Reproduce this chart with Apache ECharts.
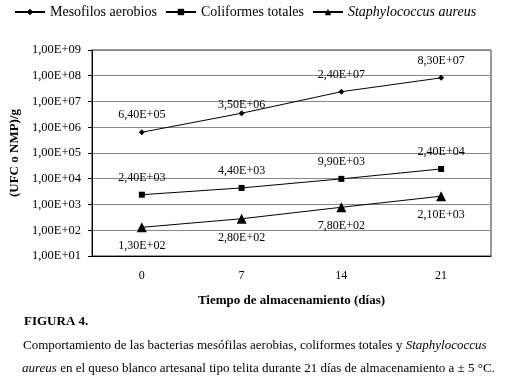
<!DOCTYPE html>
<html>
<head>
<meta charset="utf-8">
<script src="https://cdn.jsdelivr.net/npm/echarts@6/dist/echarts.min.js"></script>
<style>
  html, body { margin: 0; padding: 0; background: #fff; }
  #main { width: 511px; height: 392px; }
</style>
</head>
<body>
<div id="main"></div>
<script>
const days = ["0", "7", "14", "21"];
const mesofilos = [6.4e5, 3.5e6, 2.4e7, 8.3e7];
const coliformes = [2.4e3, 4.4e3, 9.9e3, 2.4e4];
const staphylococcus = [1.3e2, 2.8e2, 7.8e2, 2.1e3];

const serif = "Liberation Serif";

function fmtE(v) {
  var exp = Math.floor(Math.log10(v) + 1e-9);
  var mant = v / Math.pow(10, exp);
  var e = (exp < 10 ? "0" : "") + exp;
  return mant.toFixed(2).replace(".", ",") + "E+" + e;
}

function lineSeries(name, data, symbol, size, pos) {
  return {
    name: name,
    type: "line",
    data: data,
    symbol: symbol,
    symbolSize: size,
    lineStyle: { color: "#000", width: 1 },
    itemStyle: { color: "#000" },
    label: {
      show: true,
      position: pos,
      distance: 8,
      fontFamily: serif,
      fontSize: 12,
      color: "#000",
      formatter: function(p) { return fmtE(p.value); }
    },
    emphasis: { disabled: true },
    animation: false
  };
}

// the day-7 label of the first series sits closer to its point in the original
var mesoData = mesofilos.map(function(v, i) {
  return i === 1 ? { value: v, label: { offset: [0, 9] } } : v;
});

var myChart = echarts.init(document.querySelector("#main"));
myChart.setOption({
  backgroundColor: "#fff",
  legend: {
    top: 0,
    left: 9,
    itemWidth: 30,
    itemHeight: 8,
    itemGap: 8,
    textStyle: {
      fontFamily: serif,
      fontSize: 14,
      color: "#000",
      rich: { i: { fontStyle: "italic", fontFamily: serif, fontSize: 14 } }
    },
    formatter: function(n) {
      return n === "Staphylococcus aureus" ? "{i|" + n + "}" : n;
    }
  },
  grid: {
    left: 86, right: 20, top: 50, bottom: 136,
    show: true, borderColor: "#333", borderWidth: 1
  },
  xAxis: {
    type: "category",
    data: days,
    boundaryGap: true,
    name: "Tiempo de almacenamiento (días)",
    nameLocation: "middle",
    nameGap: 38,
    nameTextStyle: { fontFamily: serif, fontSize: 13, fontWeight: "bold", color: "#000" },
    axisLine: { lineStyle: { color: "#000" } },
    axisTick: { length: 4, lineStyle: { color: "#000" } },
    axisLabel: { fontFamily: serif, fontSize: 12, color: "#000", margin: 14 }
  },
  yAxis: {
    type: "log",
    logBase: 10,
    min: 10,
    max: 1e9,
    interval: 1,
    name: "(UFC o NMP)/g",
    nameLocation: "middle",
    nameGap: 68,
    nameTextStyle: { fontFamily: serif, fontSize: 13, fontWeight: "bold", color: "#000" },
    axisLine: { show: true, lineStyle: { color: "#000" } },
    axisTick: { show: true, length: 4, lineStyle: { color: "#000" } },
    axisLabel: {
      fontFamily: serif, fontSize: 12.5, color: "#000", margin: 11,
      formatter: function(v) { return fmtE(v); }
    },
    splitLine: { lineStyle: { color: "#888", width: 1 } }
  },
  series: [
    lineSeries("Mesofilos aerobios", mesoData, "diamond", 6, "top"),
    lineSeries("Coliformes totales", coliformes, "rect", 6, "top"),
    lineSeries("Staphylococcus aureus", staphylococcus, "triangle", 10, "bottom")
  ],
  graphic: [
    {
      type: "text", left: 24, top: 315,
      style: { text: "FIGURA 4.", fontFamily: serif, fontSize: 13, fontWeight: "bold", fill: "#000" }
    },
    {
      type: "text", left: 23, top: 339,
      style: {
        text: "Comportamiento de las bacterias mesófilas aerobias, coliformes totales y {i|Staphylococcus}",
        fontFamily: serif, fontSize: 13, fill: "#000",
        rich: { i: { fontStyle: "italic", fontFamily: serif, fontSize: 13 } }
      }
    },
    {
      type: "text", left: 22, top: 362,
      style: {
        text: "{i|aureus} en el queso blanco artesanal tipo telita durante 21 días de almacenamiento a ± 5 °C.",
        fontFamily: serif, fontSize: 13, fill: "#000",
        rich: { i: { fontStyle: "italic", fontFamily: serif, fontSize: 13 } }
      }
    }
  ]
});
</script>
</body>
</html>
